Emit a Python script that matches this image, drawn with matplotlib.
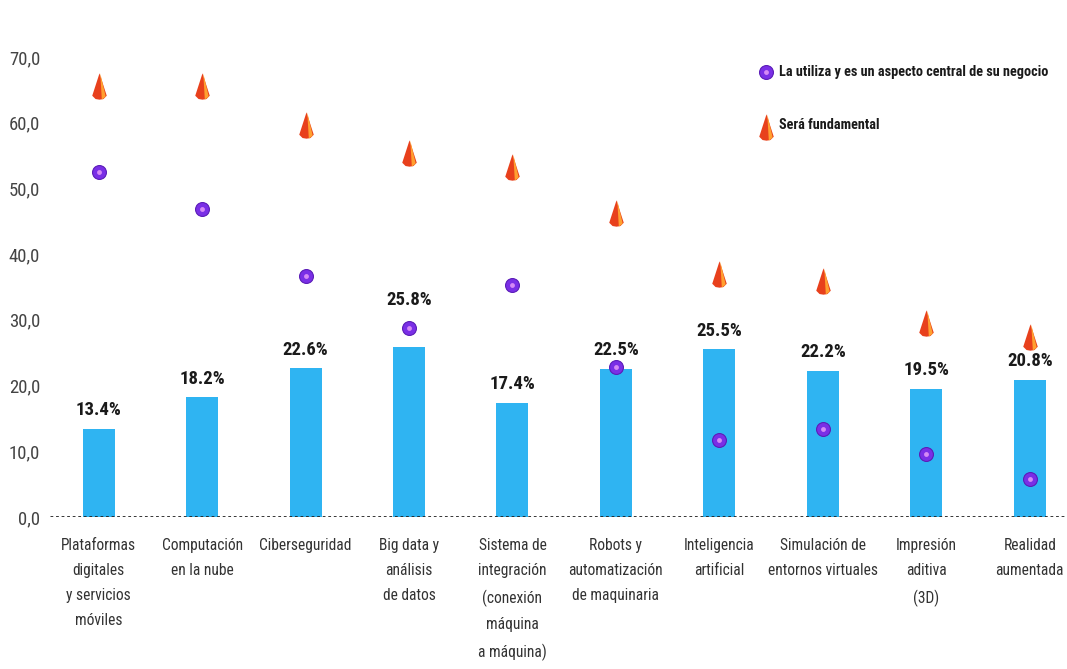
import matplotlib
matplotlib.use('Agg')
import matplotlib.pyplot as plt
from matplotlib.path import Path
from matplotlib.ticker import FuncFormatter

categories = [
    "Plataformas\ndigitales\ny servicios\nmóviles",
    "Computación\nen la nube",
    "Ciberseguridad",
    "Big data y\nanálisis\nde datos",
    "Sistema de\nintegración\n(conexión\nmáquina\na máquina)",
    "Robots y\nautomatización\nde maquinaria",
    "Inteligencia\nartificial",
    "Simulación de\nentornos virtuales",
    "Impresión\naditiva\n(3D)",
    "Realidad\naumentada",
]
bar_values = [13.4, 18.2, 22.6, 25.8, 17.4, 22.5, 25.5, 22.2, 19.5, 20.8]
central_values = [52.5, 46.9, 36.7, 28.8, 35.3, 22.8, 11.7, 13.4, 9.6, 5.8]
fundamental_values = [65.6, 65.6, 59.7, 55.4, 53.3, 46.3, 37.0, 35.9, 29.5, 27.4]

label_central = "La utiliza y es un aspecto central de su negocio"
label_fundamental = "Será fundamental"

plt.rcParams['font.family'] = ['Roboto Condensed', 'DejaVu Sans']

# cone shape for the "fundamental" marker
cone = Path([(0, 1.0), (0.55, -0.7), (0.3, -0.95), (0, -1.0), (-0.3, -0.95), (-0.55, -0.7), (0, 1.0)],
            [Path.MOVETO, Path.LINETO, Path.LINETO, Path.LINETO, Path.LINETO, Path.LINETO, Path.CLOSEPOLY])
cone_inner = Path([(0.05, 0.85), (0.4, -0.65), (0.15, -0.85), (0.05, 0.85)],
                  [Path.MOVETO, Path.LINETO, Path.LINETO, Path.CLOSEPOLY])

fig = plt.figure(figsize=(10.67, 6.69), dpi=100)
ax = fig.add_axes([50 / 1067, 152 / 669, 1017 / 1067, 460 / 669])

x = list(range(len(categories)))
ax.bar(x, bar_values, width=0.31, color='#2FB4F2', zorder=2)
for xi, v, c in zip(x, bar_values, central_values):
    # lift the label above the sphere when the sphere sits just over the bar
    base = c + 2.8 if c > v + 1 and c < v + 6 else v + 1.5
    ax.text(xi, base, f"{v:.1f}%", ha='center', va='bottom', fontsize=13.5,
            fontweight='bold', color='#1a1a1a')


def draw_fundamental(xs, ys):
    ax.plot(xs, ys, linestyle='none', marker=cone, markersize=19,
            color='#E8401C', markeredgewidth=0, zorder=4, clip_on=False)
    ax.plot(xs, ys, linestyle='none', marker=cone_inner, markersize=19,
            color='#FFA030', markeredgewidth=0, zorder=5, clip_on=False)


def draw_central(xs, ys):
    ax.plot(xs, ys, linestyle='none', marker='o', markersize=10,
            color='#7A2FE6', markeredgecolor='#5B1DB8', markeredgewidth=0.8, zorder=4, clip_on=False)
    ax.plot(xs, ys, linestyle='none', marker='o', markersize=3.5,
            color='#D58AF5', markeredgewidth=0, zorder=5, clip_on=False)


draw_fundamental(x, fundamental_values)
draw_central(x, central_values)

ax.axhline(0, color='#222222', linestyle=(0, (1, 1)), linewidth=2, zorder=3)

ax.set_xlim(-0.47, 9.36)
ax.set_ylim(0, 70)
ax.set_yticks(range(0, 71, 10))
ax.yaxis.set_major_formatter(FuncFormatter(lambda v, p: f"{v:.1f}".replace('.', ',')))
ax.tick_params(axis='y', length=0, labelsize=13.5, labelcolor='#444444', pad=7)
ax.set_xticks(x)
ax.set_xticklabels(categories, fontsize=11.2, color='#333333', linespacing=1.85)
ax.tick_params(axis='x', length=0, pad=15)
for s in ax.spines.values():
    s.set_visible(False)

# legend drawn by hand at top right
draw_central([6.45], [67.7])
ax.text(6.58, 67.7, label_central, fontsize=10.3, fontweight='bold', color='#1a1a1a', va='center')
draw_fundamental([6.45], [59.3])
ax.text(6.58, 59.6, label_fundamental, fontsize=10.3, fontweight='bold', color='#1a1a1a', va='center')

plt.savefig('out.png', dpi=100)
plt.close(fig)
